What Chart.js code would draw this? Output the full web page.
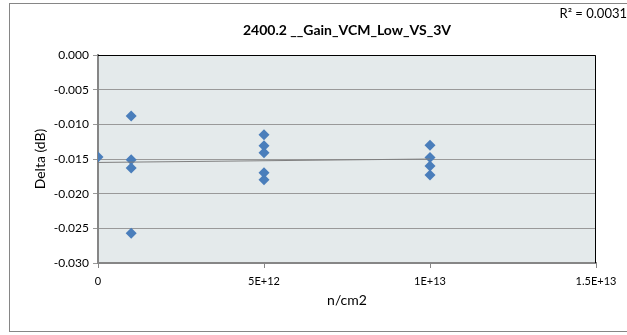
<!DOCTYPE html>
<html>
<head>
  <title>2400.2 Gain VCM Low VS 3V</title>
  <script src="https://cdn.jsdelivr.net/npm/chart.js"></script>
  <style>
    html, body { margin: 0; padding: 0; background: #fff; }
    #wrap { width: 627px; height: 335px; }
  </style>
</head>
<body>
  <div id="wrap">
    <canvas id="deltaChart" width="627" height="335"></canvas>
  </div>

  <script>
    // fluence (n/cm2) for each measured point
    const fluence = [0, 1e12, 1e12, 1e12, 1e12, 5e12, 5e12, 5e12, 5e12, 5e12, 1e13, 1e13, 1e13, 1e13];
    // delta in dB
    const delta = [-0.0147, -0.0088, -0.0151, -0.0163, -0.0257, -0.0115, -0.0131, -0.0141, -0.0170, -0.0180, -0.0130, -0.0148, -0.0160, -0.0173];

    // linear trendline ends as drawn
    const trendX = [0, 1e13];
    const trendY = [-0.0155, -0.0150];

    const xTickLabels = ['0', '5E+12', '1E+13', '1.5E+13'];
    const chartTitle = '2400.2 __Gain_VCM_Low_VS_3V';
    const rSquared = 'R\u00B2 = 0.0031';
    const xTitle = 'n/cm2';
    const yTitle = 'Delta (dB)';

    const font = 'Lato, "Open Sans", sans-serif';

    const frame = {
      id: 'frame',
      beforeDraw(chart) {
        const ctx = chart.ctx;
        const a = chart.chartArea;
        ctx.save();
        ctx.fillStyle = '#fff';
        ctx.fillRect(0, 0, chart.width, chart.height);
        ctx.strokeStyle = '#868686';
        ctx.lineWidth = 1;
        ctx.strokeRect(9.5, 3.5, 640, 328);
        ctx.fillStyle = '#e4eaeb';
        ctx.fillRect(a.left, a.top, a.right - a.left, a.bottom - a.top);
        ctx.restore();
      },
      beforeDatasetsDraw(chart) {
        const ctx = chart.ctx;
        const a = chart.chartArea;
        ctx.save();
        ctx.strokeStyle = '#000';
        ctx.lineWidth = 1;
        ctx.beginPath();
        ctx.moveTo(a.left, a.top + 0.5);
        ctx.lineTo(a.right - 0.5, a.top + 0.5);
        ctx.lineTo(a.right - 0.5, a.bottom);
        ctx.stroke();
        ctx.restore();
      },
      afterDraw(chart) {
        const ctx = chart.ctx;
        const a = chart.chartArea;
        ctx.save();
        ctx.fillStyle = '#000';
        ctx.textBaseline = 'middle';
        ctx.textAlign = 'center';
        ctx.font = 'bold 14px ' + font;
        ctx.fillText(chartTitle, (a.left + a.right) / 2, 30);
        ctx.font = '14px ' + font;
        ctx.fillText(xTitle, (a.left + a.right) / 2, 300);
        ctx.font = '13px ' + font;
        ctx.textAlign = 'right';
        ctx.fillText(rSquared, 627, 14);
        ctx.font = '14px ' + font;
        ctx.translate(40, (a.top + a.bottom) / 2);
        ctx.rotate(-Math.PI / 2);
        ctx.textAlign = 'center';
        ctx.fillText(yTitle, 0, 0);
        ctx.restore();
      }
    };

    new Chart(document.getElementById('deltaChart'), {
      type: 'scatter',
      data: {
        datasets: [{
          label: 'Trend',
          data: trendX.map((x, i) => ({ x: x, y: trendY[i] })),
          showLine: true,
          borderColor: '#7f7f7f',
          borderWidth: 1,
          pointRadius: 0
        }, {
          label: 'Delta',
          data: fluence.map((x, i) => ({ x: x, y: delta[i] })),
          pointStyle: 'rectRot',
          pointRadius: 5.5,
          backgroundColor: '#4a7ebb',
          borderColor: '#4a7ebb',
          borderWidth: 0
        }]
      },
      plugins: [frame],
      options: {
        responsive: false,
        animation: false,
        layout: { padding: { top: 55, right: 31, bottom: 0, left: 0 } },
        plugins: {
          legend: { display: false },
          tooltip: { enabled: false }
        },
        scales: {
          x: {
            type: 'linear',
            min: 0,
            max: 1.5e13,
            afterFit(scale) { scale.height = 72; },
            afterBuildTicks(scale) {
              scale.ticks = xTickLabels.map((l, i) => ({ value: i * 5e12 }));
            },
            ticks: {
              callback: (v, i) => xTickLabels[i],
              font: { family: font, size: 11 },
              color: '#000',
              padding: 7,
              maxRotation: 0
            },
            grid: { drawOnChartArea: false, drawTicks: true, tickLength: 5, color: '#868686' },
            border: { color: '#868686', width: 2 }
          },
          y: {
            type: 'linear',
            min: -0.03,
            max: 0,
            afterFit(scale) { scale.width = 98; },
            ticks: {
              stepSize: 0.005,
              callback: v => v.toFixed(3),
              font: { family: font, size: 12 },
              color: '#000',
              padding: 4
            },
            grid: { color: '#999999', tickLength: 5 },
            border: { color: '#868686', width: 2 }
          }
        }
      }
    });
  </script>
</body>
</html>
